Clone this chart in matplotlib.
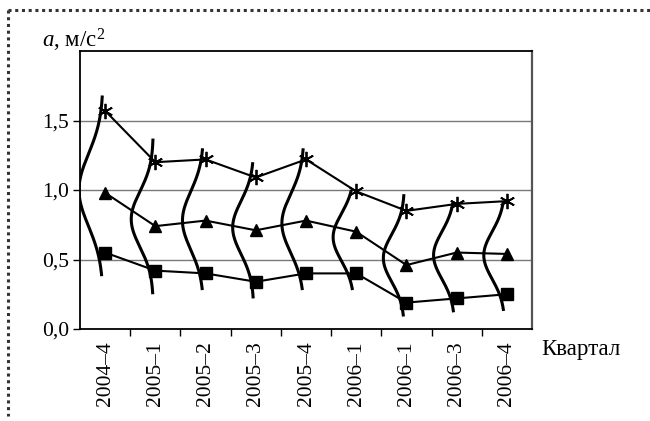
import numpy as np
import matplotlib
matplotlib.use("Agg")
import matplotlib.pyplot as plt
from matplotlib.lines import Line2D

plt.rcParams['font.family'] = ['Liberation Serif', 'DejaVu Serif']
plt.rcParams['mathtext.fontset'] = 'custom'
plt.rcParams['mathtext.rm'] = 'Liberation Serif'
plt.rcParams['mathtext.it'] = 'Liberation Serif:italic'

# ---- data ----
quarters = ["2004–4", "2005–1", "2005–2", "2005–3", "2005–4",
            "2006–1", "2006–1", "2006–3", "2006–4"]
upper = [1.57, 1.20, 1.22, 1.09, 1.22, 0.99, 0.85, 0.90, 0.92]     # stars
middle = [0.98, 0.74, 0.78, 0.71, 0.78, 0.70, 0.46, 0.55, 0.54]    # triangles
lower = [0.55, 0.42, 0.40, 0.34, 0.40, 0.40, 0.19, 0.22, 0.25]     # squares

# distribution curves at each quarter
curve_top = [1.68, 1.37, 1.30, 1.20, 1.30, 1.00, 0.97, 0.92, 0.92]
curve_bottom = [0.38, 0.25, 0.28, 0.22, 0.28, 0.28, 0.09, 0.12, 0.13]
curve_peak = [1.00, 0.79, 0.78, 0.73, 0.76, 0.66, 0.51, 0.53, 0.53]
curve_sigma = [0.26, 0.20, 0.21, 0.19, 0.21, 0.17, 0.17, 0.17, 0.17]
curve_depth = [0.48, 0.44, 0.42, 0.42, 0.44, 0.42, 0.42, 0.42, 0.42]

yticks = [0.0, 0.5, 1.0, 1.5]
ytick_labels = ["0,0", "0,5", "1,0", "1,5"]

fig = plt.figure(figsize=(6.5, 4.21), dpi=100)
ax = fig.add_axes([80/650, 1-329/421, (532-80)/650, (329-51)/421])

x = np.arange(len(quarters))

# curves
for i in range(len(quarters)):
    yy = np.linspace(curve_top[i], curve_bottom[i], 200)
    xx = (i - 0.04) - curve_depth[i]*np.exp(-0.5*((yy - curve_peak[i])/curve_sigma[i])**2)
    ax.plot(xx, yy, color='black', lw=2.2, solid_capstyle='butt', zorder=3)

ax.plot(x, upper, color='black', lw=1.5, marker=(6, 2, 0), ms=11, mew=1.3, zorder=4)
ax.plot(x, middle, color='black', lw=1.5, marker='^', ms=9, zorder=4)
ax.plot(x, lower, color='black', lw=1.5, marker='s', ms=9, zorder=4)

for v in [0.5, 1.0, 1.5]:
    ax.axhline(v, color='#7a7a7a', lw=1.0, zorder=1)

ax.set_xlim(-0.5, len(quarters)-0.5)
ax.set_ylim(0, 2.0)
ax.set_yticks(yticks)
ax.set_yticklabels(ytick_labels, fontsize=15.5)
ax.set_xticks(x)
ax.set_xticklabels(quarters, rotation=90, fontsize=15.5)
ax.set_xticks(np.arange(0.5, len(quarters)-0.5, 1.0), minor=True)
ax.tick_params(axis='x', which='major', length=0, pad=9)
ax.tick_params(axis='x', which='minor', length=5, width=1, direction='out')
ax.tick_params(axis='y', length=5, width=1, direction='out', pad=3)

for s in ['left', 'bottom', 'top']:
    ax.spines[s].set_color('black')
    ax.spines[s].set_linewidth(1.3)
ax.spines['right'].set_color('#555555')
ax.spines['right'].set_linewidth(1.6)

fig.text(42/650, 1-40/421, "$a$, м/с$^2$", fontsize=16.5, ha='left', va='center')
fig.text(541/650, 1-350/421, "Квартал", fontsize=16.5, ha='left', va='center')

# dotted frame
fig.add_artist(Line2D([8/650, 1.0], [1-10/421, 1-10/421], transform=fig.transFigure,
                      color='#333333', lw=2.2, linestyle=(0, (1, 1.2))))
fig.add_artist(Line2D([8/650, 8/650], [1-10/421, 1-416/421], transform=fig.transFigure,
                      color='#333333', lw=2.2, linestyle=(0, (1, 1.2))))

fig.savefig("out.png", dpi=100)
